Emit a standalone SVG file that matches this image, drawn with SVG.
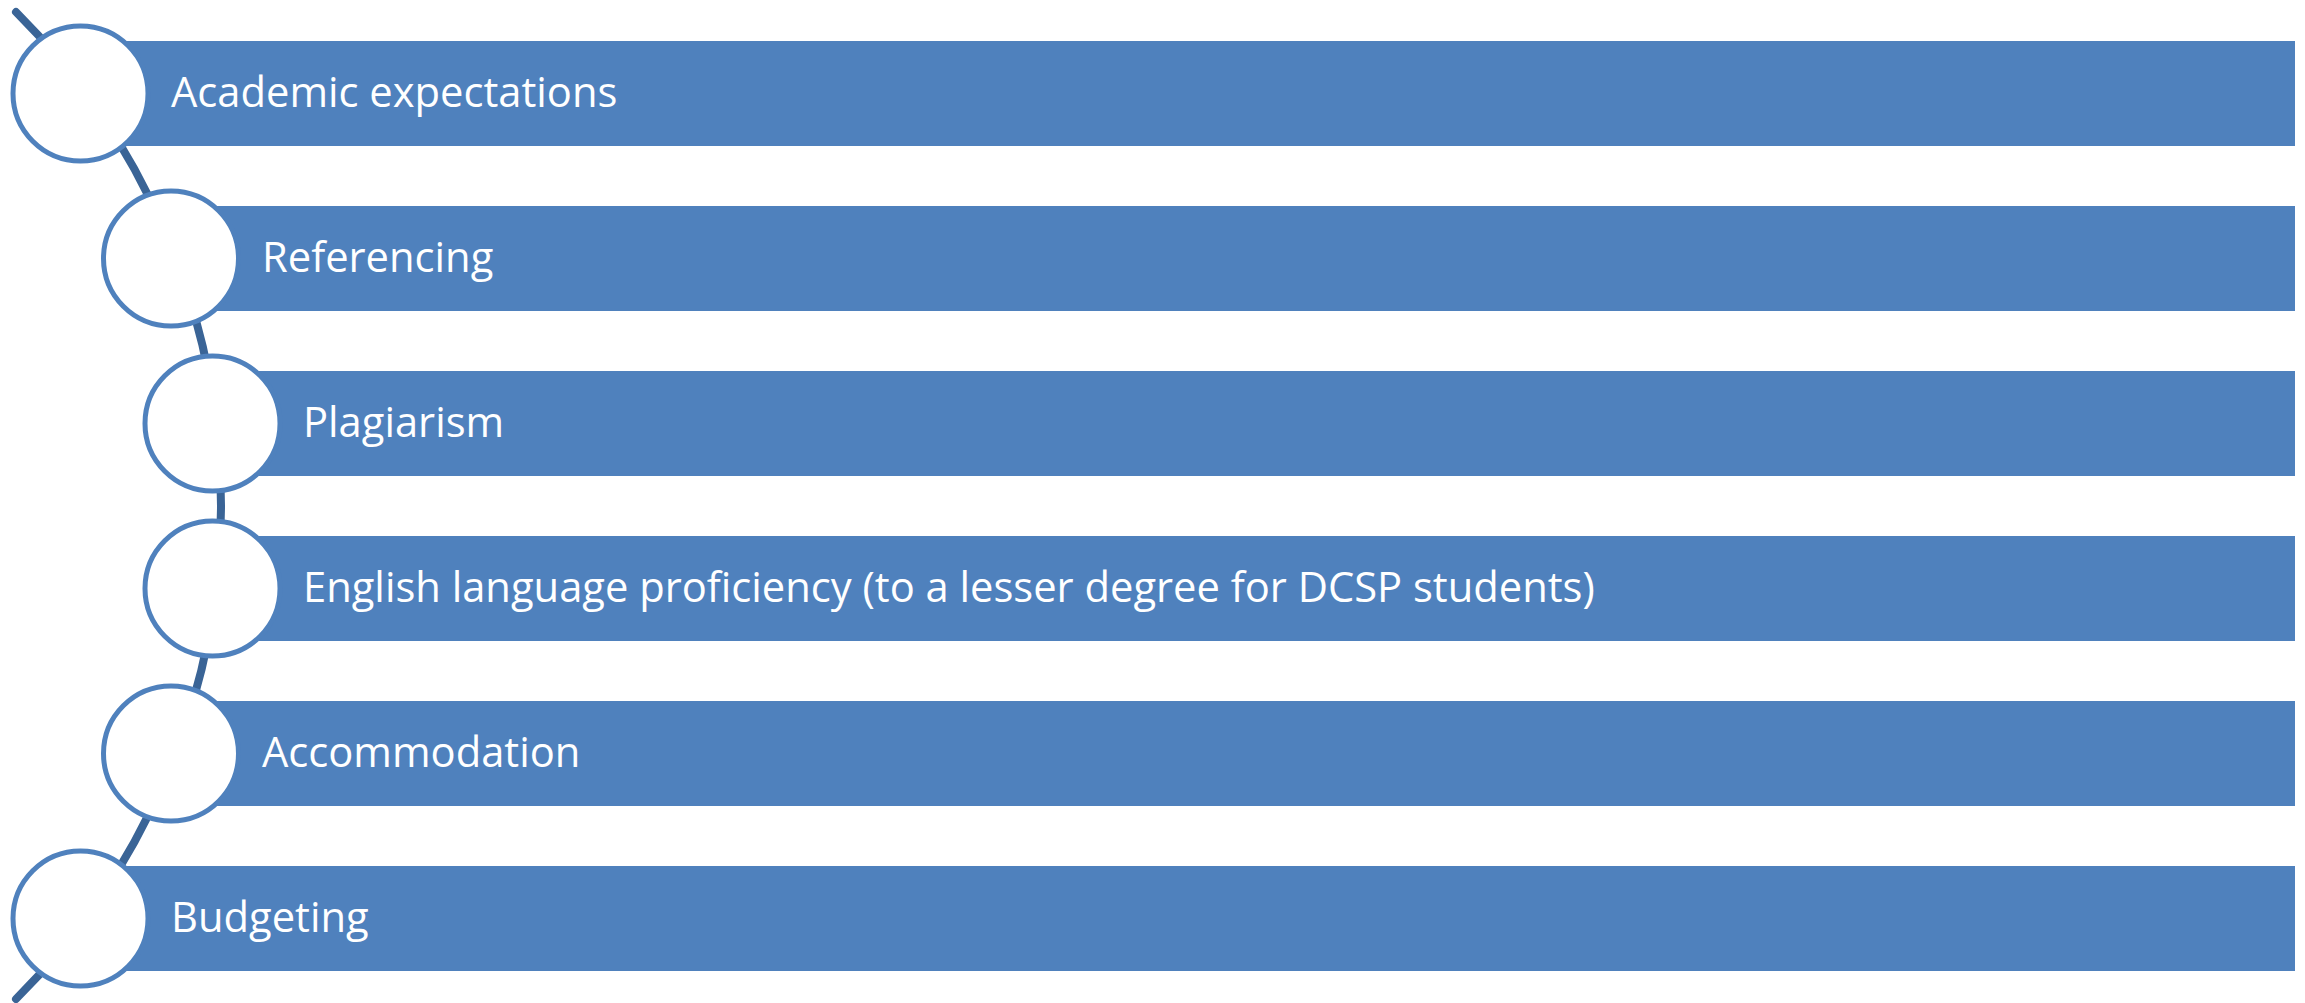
<svg xmlns="http://www.w3.org/2000/svg" width="2305" height="1003" viewBox="0 0 2305 1003">
<style>
.bar{fill:#4F81BD}
.node circle{fill:#FFFFFF;stroke:#4F81BD;stroke-width:5}
.lbl{font-family:"Open Sans","Liberation Sans",sans-serif;font-size:41.7px;fill:#FFFFFF}
.conn{fill:none;stroke:#3A6496;stroke-width:8;stroke-linecap:round}
</style>
<rect width="2305" height="1003" fill="#FFFFFF"/>
<g id="connectors">
<path class="conn" d="M16,12 A696.5,696.5 0 0 1 16,999"/>
</g>
<g id="node1" class="node">
<rect class="bar" x="80" y="41" width="2215" height="105"/>
<circle cx="80.5" cy="93.5" r="67.5"/>
<text class="lbl" x="171" y="107">Academic expectations</text>
</g>
<g id="node2" class="node">
<rect class="bar" x="170" y="206" width="2125" height="105"/>
<circle cx="171" cy="258.5" r="67.5"/>
<text class="lbl" x="262" y="272">Referencing</text>
</g>
<g id="node3" class="node">
<rect class="bar" x="212" y="371" width="2083" height="105"/>
<circle cx="212.5" cy="423.5" r="67.5"/>
<text class="lbl" x="303" y="437">Plagiarism</text>
</g>
<g id="node4" class="node">
<rect class="bar" x="212" y="536" width="2083" height="105"/>
<circle cx="212.5" cy="588.5" r="67.5"/>
<text class="lbl" x="303" y="602">English language proficiency (to a lesser degree for DCSP students)</text>
</g>
<g id="node5" class="node">
<rect class="bar" x="170" y="701" width="2125" height="105"/>
<circle cx="171" cy="753.5" r="67.5"/>
<text class="lbl" x="262" y="767">Accommodation</text>
</g>
<g id="node6" class="node">
<rect class="bar" x="80" y="866" width="2215" height="105"/>
<circle cx="80.5" cy="918.5" r="67.5"/>
<text class="lbl" x="171" y="932">Budgeting</text>
</g>
</svg>
